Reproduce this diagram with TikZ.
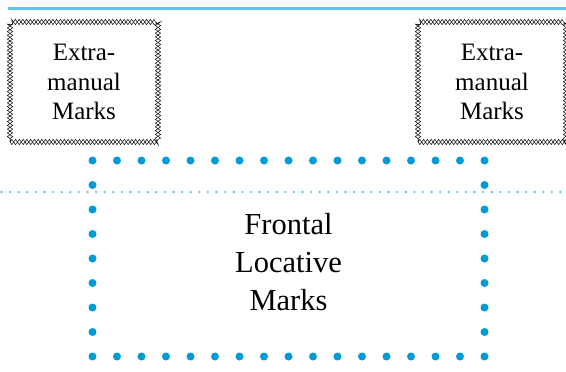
\documentclass[tikz,border=0pt]{standalone}
\usepackage{fontspec}
\setmainfont{Liberation Serif}
\usetikzlibrary{decorations.pathmorphing}

\definecolor{dotblue}{RGB}{0,155,215}
\definecolor{lineblue}{RGB}{95,195,235}

\begin{document}
\begin{tikzpicture}[x=1pt, y=-1pt,
  chain/.style={
    preaction={draw, decorate, decoration={zigzag, segment length=7.5pt, amplitude=2.6pt}},
    postaction={draw, decorate, decoration={zigzag, segment length=7.5pt, amplitude=-2.6pt}},
    line width=0.5pt, minimum width=148pt, minimum height=120pt, inner sep=0pt,
    align=center, font=\fontsize{25}{29.5}\selectfont},
  bigdots/.style={draw=dotblue, line width=8pt, line cap=round,
    dash pattern=on 0pt off 24.5pt, minimum width=392pt, minimum height=196pt,
    inner sep=0pt},
  bigtext/.style={align=center, font=\fontsize{30.5}{38}\selectfont},
  smalldots/.style={draw=lineblue, line width=2.6pt, line cap=round,
    dash pattern=on 0pt off 8.6pt}]

  \useasboundingbox (0,0) rectangle (566,372);

  % rules across the page
  \coordinate (topL) at (8,8.5);
  \coordinate (topR) at (566,8.5);
  \draw[lineblue, line width=2.6pt] (topL) -- (topR);
  \coordinate (midL) at (1.5,192);
  \coordinate (midR) at (566,192);
  \draw[smalldots] (midL) -- (midR);

  % extra-manual boxes
  \node[chain] (leftmarks)  at (84,82)  {Extra-\\manual\\Marks};
  \node[chain] (rightmarks) at (492,82) {Extra-\\manual\\Marks};

  % frontal box
  \node[bigdots] (frontal) at (288.5,258.5) {};
  \node[bigtext] (frontaltext) at ([yshift=-4pt]frontal.center) {Frontal\\Locative\\Marks};
\end{tikzpicture}
\end{document}
